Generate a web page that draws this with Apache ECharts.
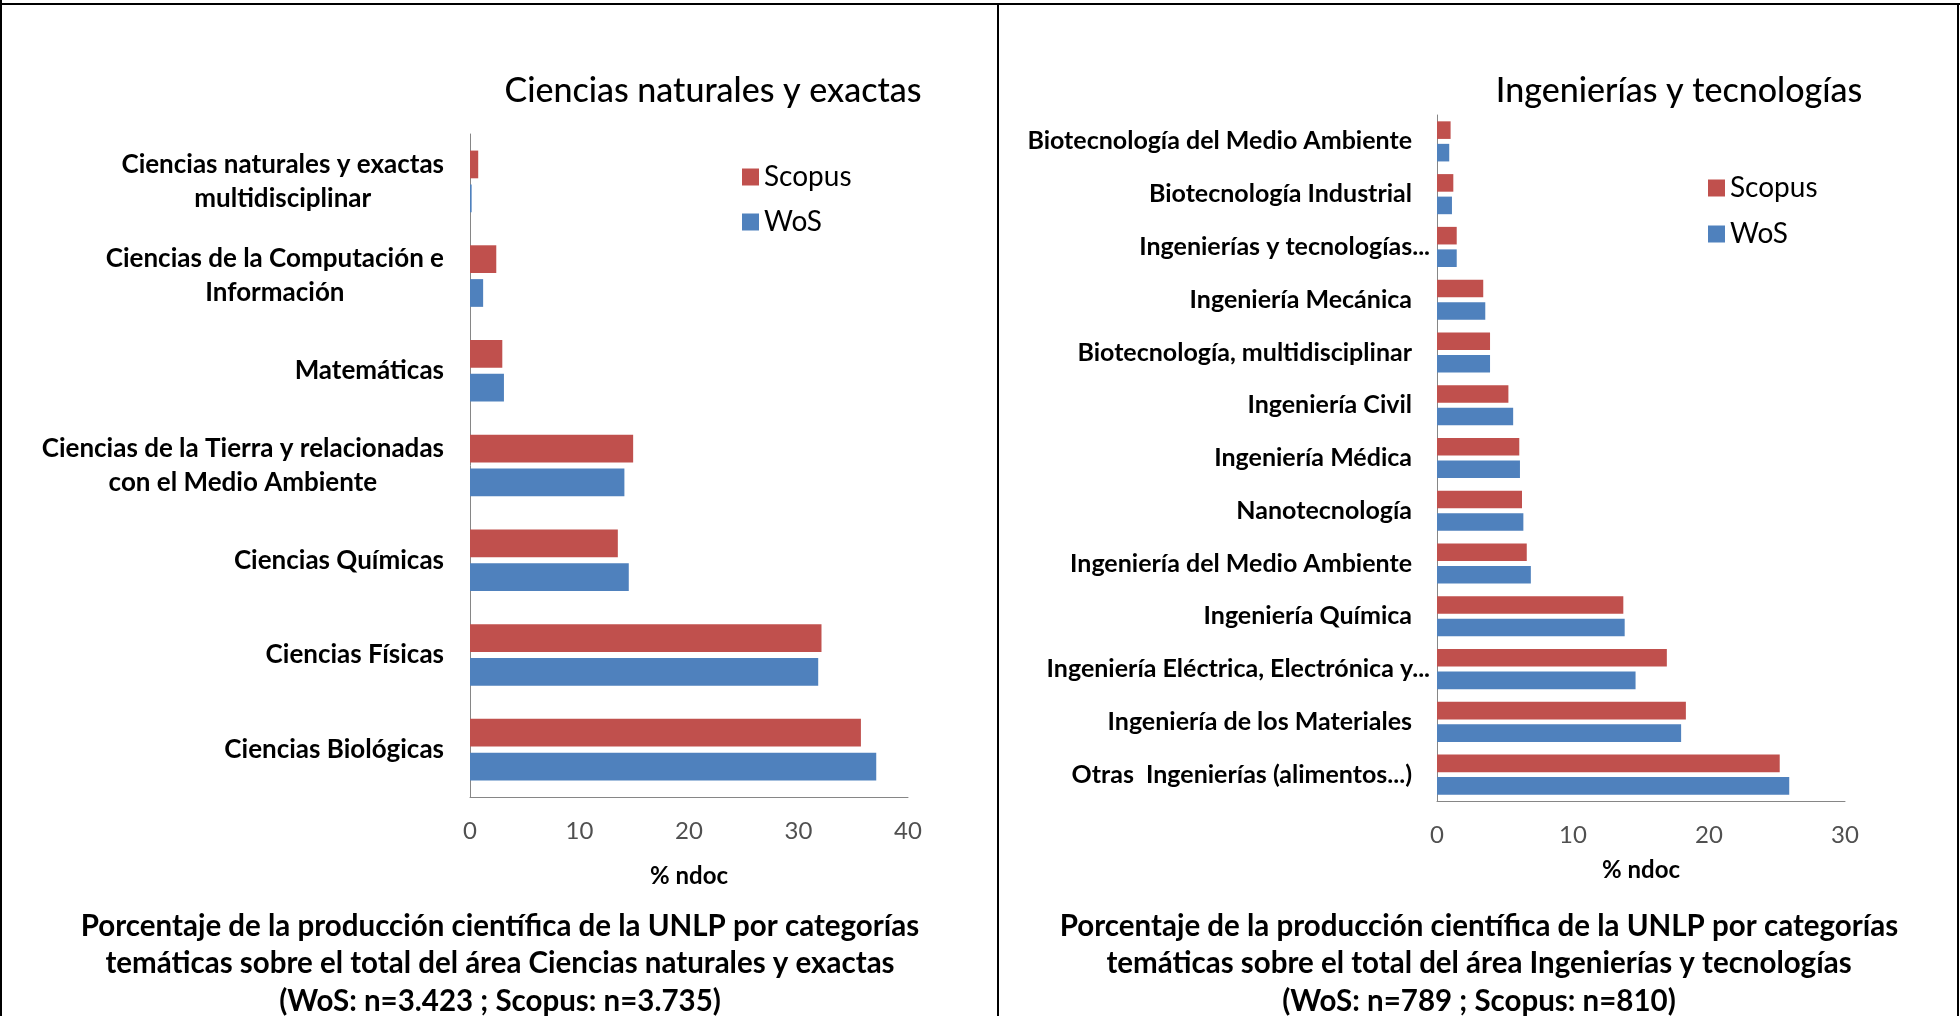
<!DOCTYPE html>
<html><head><meta charset="utf-8">
<script src="https://cdn.jsdelivr.net/npm/echarts@6/dist/echarts.min.js"></script>
<style>html,body{margin:0;padding:0;background:#fff}#c{width:1960px;height:1016px}</style>
</head><body><div id="c"></div>
<script>
// ---- data ----
const catsNat = [
  'Ciencias naturales y exactas\nmultidisciplinar',
  'Ciencias de la Computación e\nInformación',
  'Matemáticas',
  'Ciencias de la Tierra y relacionadas\ncon el Medio Ambiente',
  'Ciencias Químicas',
  'Ciencias Físicas',
  'Ciencias Biológicas'
];
const scopusNat = [0.75, 2.4, 2.95, 14.9, 13.5, 32.1, 35.7];
const wosNat    = [0.15, 1.2, 3.1, 14.1, 14.5, 31.8, 37.1];

const catsIng = [
  'Biotecnología del Medio Ambiente',
  'Biotecnología Industrial',
  'Ingenierías y tecnologías...',
  'Ingeniería Mecánica',
  'Biotecnología, multidisciplinar',
  'Ingeniería Civil',
  'Ingeniería Médica',
  'Nanotecnología',
  'Ingeniería del Medio Ambiente',
  'Ingeniería Química',
  'Ingeniería Eléctrica, Electrónica y...',
  'Ingeniería de los Materiales',
  'Otras  Ingenierías (alimentos...)'
];
const scopusIng = [1.0, 1.2, 1.45, 3.4, 3.9, 5.25, 6.05, 6.25, 6.6, 13.7, 16.9, 18.3, 25.2];
const wosIng    = [0.9, 1.1, 1.45, 3.55, 3.9, 5.6, 6.1, 6.35, 6.9, 13.8, 14.6, 17.95, 25.9];

const axisMaxNat = 40, axisMaxIng = 30, tickStep = 10;
const titleNat = 'Ciencias naturales y exactas';
const titleIng = 'Ingenierías y tecnologías';
const captionNat = ['Porcentaje de la producción científica de la UNLP por categorías',
  'temáticas sobre el total del área Ciencias naturales y exactas',
  '(WoS: n=3.423 ; Scopus: n=3.735)'];
const captionIng = ['Porcentaje de la producción científica de la UNLP por categorías',
  'temáticas sobre el total del área Ingenierías y tecnologías',
  '(WoS: n=789 ; Scopus: n=810)'];
const axisName = '% ndoc';

// ---- styles ----
const FONT = 'Lato';
const RED = '#C0504D', BLUE = '#4F81BD';
const AXIS_C = '#868686', TICK_C = '#505050';

const chart = echarts.init(document.getElementById('c'), null, {renderer: 'canvas'});

function valueAxis(gi, max, nameGap, labelMargin) {
  return {
    type: 'value', gridIndex: gi, min: 0, max: max, interval: tickStep,
    axisLine: {show: true, lineStyle: {color: AXIS_C, width: 1}},
    axisTick: {show: false}, splitLine: {show: false},
    axisLabel: {color: TICK_C, fontFamily: FONT, fontSize: 24, margin: labelMargin},
    name: axisName, nameLocation: 'middle', nameGap: nameGap,
    nameTextStyle: {fontFamily: FONT, fontSize: 24, fontWeight: 'bold', color: '#000'}
  };
}

const captionGraphics = [];
function addCaption(lines, cx) {
  lines.forEach((t, i) => {
    captionGraphics.push({type: 'text', style: {
      text: t, x: cx, y: 926 + i * 37.5, textAlign: 'center', textVerticalAlign: 'middle',
      font: 'bold 29.5px ' + FONT, fill: '#000'}});
  });
}
addCaption(captionNat, 500);
addCaption(captionIng, 1479);

const borders = [
  {type: 'rect', shape: {x: 0, y: 3, width: 1960, height: 2}, style: {fill: '#000'}},
  {type: 'rect', shape: {x: 0, y: 0, width: 2, height: 1016}, style: {fill: '#000'}},
  {type: 'rect', shape: {x: 997, y: 3, width: 2, height: 1013}, style: {fill: '#000'}},
  {type: 'rect', shape: {x: 1957, y: 3, width: 2, height: 1013}, style: {fill: '#000'}}
];

const option = {
  backgroundColor: '#fff',
  animation: false,
  grid: [
    {left: 470, top: 134, width: 438, height: 663, containLabel: false},
    {left: 1437, top: 115, width: 408, height: 686, containLabel: false}
  ],
  legend: [
    {data: ['Scopus', 'WoS'], orient: 'vertical', left: 737, top: 158, icon: 'rect',
     itemWidth: 17, itemHeight: 17, itemGap: 17, selectedMode: false,
     textStyle: {fontFamily: FONT, fontSize: 28, color: '#000', padding: [0, 0, 0, 0]}},
    {data: ['Scopus', 'WoS'], orient: 'vertical', left: 1703, top: 169, icon: 'rect',
     itemWidth: 17, itemHeight: 17, itemGap: 18, selectedMode: false,
     textStyle: {fontFamily: FONT, fontSize: 28, color: '#000', padding: [0, 0, 0, 0]}}
  ],
  xAxis: [valueAxis(0, axisMaxNat, 67, 22), valueAxis(1, axisMaxIng, 57, 22)],
  yAxis: [
    {type: 'category', gridIndex: 0, data: catsNat, inverse: true,
     axisLine: {show: true, lineStyle: {color: AXIS_C}}, axisTick: {show: false},
     axisLabel: {margin: 26, fontFamily: FONT, fontSize: 26, fontWeight: 'bold', color: '#000',
       lineHeight: 34,
       formatter: v => v.split('\n').map(l => '{c|' + l + '}').join('\n'),
       rich: {c: {align: 'center', fontFamily: FONT, fontSize: 26, fontWeight: 'bold', color: '#000', lineHeight: 34}}}},
    {type: 'category', gridIndex: 1, data: catsIng, inverse: true,
     axisLine: {show: true, lineStyle: {color: AXIS_C}}, axisTick: {show: false},
     axisLabel: {margin: 7, fontFamily: FONT, fontSize: 25, fontWeight: 'bold', color: '#000',
       formatter: v => v.endsWith('...') && !v.endsWith('...)') ? '{e|' + v + '}' : '{n|' + v + '}',
       rich: {
         n: {fontFamily: FONT, fontSize: 25, fontWeight: 'bold', color: '#000', padding: [0, 18, 0, 0]},
         e: {fontFamily: FONT, fontSize: 25, fontWeight: 'bold', color: '#000'}
       }}}
  ],
  series: [
    {name: 'Scopus', type: 'bar', xAxisIndex: 0, yAxisIndex: 0, data: scopusNat, itemStyle: {color: RED}},
    {name: 'WoS', type: 'bar', xAxisIndex: 0, yAxisIndex: 0, data: wosNat, itemStyle: {color: BLUE},
     barGap: '22%', barCategoryGap: '35%'},
    {name: 'Scopus', type: 'bar', xAxisIndex: 1, yAxisIndex: 1, data: scopusIng, itemStyle: {color: RED}},
    {name: 'WoS', type: 'bar', xAxisIndex: 1, yAxisIndex: 1, data: wosIng, itemStyle: {color: BLUE},
     barGap: '28%', barCategoryGap: '24%'}
  ],
  graphic: [].concat(borders, captionGraphics, [
    {type: 'text', style: {text: titleNat, x: 713, y: 91, textAlign: 'center', textVerticalAlign: 'middle',
      font: '500 34px ' + FONT, fill: '#000'}},
    {type: 'text', style: {text: titleIng, x: 1679, y: 91, textAlign: 'center', textVerticalAlign: 'middle',
      font: '500 34px ' + FONT, fill: '#000'}}
  ])
};
chart.setOption(option);
</script></body></html>
